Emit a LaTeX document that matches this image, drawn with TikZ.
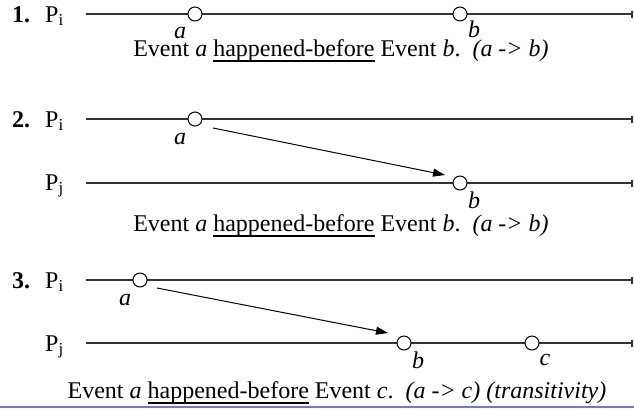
\documentclass[tikz,border=0pt]{standalone}
\usepackage{fontspec}
\setmainfont{Liberation Serif}
\usetikzlibrary{arrows.meta,calc}
\newcommand\myul[1]{\leavevmode\setbox0\hbox{#1}\rlap{\rule[-5.5pt]{\wd0}{1.3pt}}\box0\relax}
\begin{document}
\begin{tikzpicture}[x=1pt,y=-1pt,
  every node/.style={font=\fontsize{24}{28}\selectfont, inner sep=0pt},
  proc/.style={line width=1.2pt, draw=black!80, -{Bar[width=7pt,line width=2pt]}},
  ev/.style={circle, draw, line width=1pt, fill=white, minimum size=14pt},
  msg/.style={line width=1pt, -{Triangle[length=12pt,width=8pt]}},
  num/.style={font=\fontsize{24}{28}\selectfont\bfseries},
  lab/.style={font=\fontsize{24}{28}\selectfont\itshape},
  captext/.style={anchor=base}]
\useasboundingbox (0,0) rectangle (634,408);
% ---- 1 ----
\node[num, anchor=base west] (n1) at (12,22) {1.};
\node[anchor=base west] (p1) at (45,22) {P\textsubscript{i}};
\coordinate (s1) at (86,14);
\coordinate (e1) at (633,14);
\draw[proc] (s1) -- (e1);
\node[ev] (a1) at (195,14) {};
\node[ev] (b1) at (460,14) {};
\node[lab] (la1) at (180,33) {a};
\node[lab] (lb1) at (474,29) {b};
\node[captext] (c1) at (341,56) {Event \textit{a} \myul{happened-before} Event \textit{b}.\ \ \textit{(a -> b)}};
% ---- 2 ----
\node[num, anchor=base west] (n2) at (12,127) {2.};
\node[anchor=base west] (p2i) at (45,127) {P\textsubscript{i}};
\node[anchor=base west] (p2j) at (45,190) {P\textsubscript{j}};
\coordinate (s2i) at (86,119);
\coordinate (e2i) at (633,119);
\coordinate (s2j) at (86,183);
\coordinate (e2j) at (633,183);
\draw[proc] (s2i) -- (e2i);
\draw[proc] (s2j) -- (e2j);
\node[ev] (a2) at (195,119) {};
\node[ev] (b2) at (460,183) {};
\node[lab] (la2) at (180,139) {a};
\node[lab] (lb2) at (474,200) {b};
\draw[msg] ([shift={(18,9)}]a2.center) -- ([shift={(-15,-8)}]b2.center);
\node[captext] (c2) at (341,231) {Event \textit{a} \myul{happened-before} Event \textit{b}.\ \ \textit{(a -> b)}};
% ---- 3 ----
\node[num, anchor=base west] (n3) at (12,288) {3.};
\node[anchor=base west] (p3i) at (45,288) {P\textsubscript{i}};
\node[anchor=base west] (p3j) at (45,351) {P\textsubscript{j}};
\coordinate (s3i) at (86,280);
\coordinate (e3i) at (633,280);
\coordinate (s3j) at (86,343);
\coordinate (e3j) at (633,343);
\draw[proc] (s3i) -- (e3i);
\draw[proc] (s3j) -- (e3j);
\node[ev] (a3) at (140,280) {};
\node[ev] (b3) at (404,343) {};
\node[ev] (c3) at (532,343) {};
\node[lab] (la3) at (125,300) {a};
\node[lab] (lb3) at (418,360) {b};
\node[lab] (lc3) at (545,360) {c};
\draw[msg] ([shift={(17,8)}]a3.center) -- ([shift={(-16,-10)}]b3.center);
\node[captext] (c3t) at (337,398) {Event \textit{a} \myul{happened-before} Event \textit{c}.\ \ \textit{(a -> c) (transitivity)}};
% bottom border
\draw[line width=1.5pt, color={rgb,255:red,110;green,120;blue,215}] (0,407) -- (634,407);
\end{tikzpicture}
\end{document}
